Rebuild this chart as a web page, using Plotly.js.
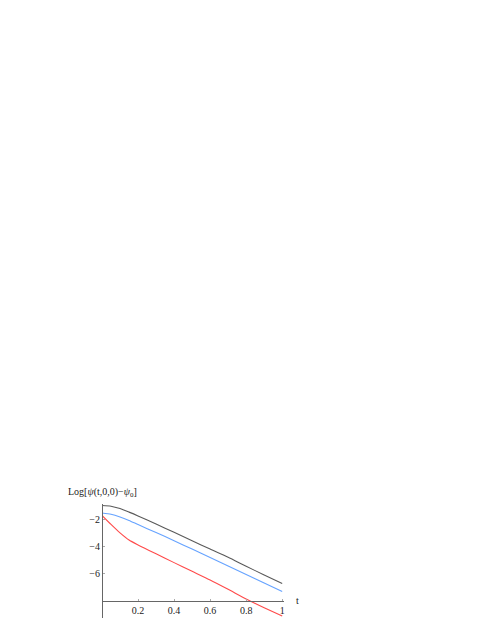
<!DOCTYPE html>
<html>
<head>
<meta charset="utf-8">
<script src="https://cdn.plot.ly/plotly-3.0.1.min.js"></script>
<style>
  html, body { margin: 0; padding: 0; background: #fff; }
  #plot { width: 485px; height: 627px; }
</style>
</head>
<body>
<div id="plot"></div>
<script>
// sample times
const times = [0, 0.05, 0.1, 0.15, 0.2, 0.3, 0.4, 0.5, 0.6, 0.7, 0.8, 0.9, 1.0];

// Log[psi(t,0,0) - psi0] for the three runs
const logBlack = [-0.95, -1.0, -1.18, -1.44, -1.72, -2.32, -2.93, -3.55, -4.17, -4.78, -5.44, -6.08, -6.72];
const logBlue  = [-1.5, -1.6, -1.8, -2.06, -2.36, -2.95, -3.55, -4.17, -4.8, -5.42, -6.05, -6.68, -7.3];
const logRed   = [-1.68, -2.35, -2.97, -3.5, -3.86, -4.52, -5.17, -5.81, -6.45, -7.14, -7.85, -8.5, -9.12];

const xTicks = [0.2, 0.4, 0.6, 0.8, 1];
const xTickText = ['0.2', '0.4', '0.6', '0.8', '1'];
const yTicks = [-6, -4, -2];

const yRange = [-9.26, -0.84];
const xAxisAt = -8;   // x axis crosses the y axis here

function curve(y, color) {
  return {
    x: times,
    y: y,
    type: 'scatter',
    mode: 'lines',
    line: { color: color, width: 1.1, shape: 'spline', smoothing: 0.6 },
    hoverinfo: 'skip'
  };
}

const data = [
  curve(logBlack, '#5a5a5a'),
  curve(logBlue, '#66a3ff'),
  curve(logRed, '#ff4a4a')
];

const axisFont = { family: 'Liberation Serif, Times New Roman, serif', size: 10, color: '#222' };

const layout = {
  width: 485,
  height: 627,
  margin: { l: 102, r: 201, t: 504, b: 9 },
  paper_bgcolor: '#fff',
  plot_bgcolor: '#fff',
  showlegend: false,
  font: axisFont,
  xaxis: {
    range: [0, 1.01],
    anchor: 'free',
    position: (xAxisAt - yRange[0]) / (yRange[1] - yRange[0]),
    showgrid: false,
    zeroline: false,
    showline: true,
    linecolor: '#666',
    linewidth: 1,
    tickvals: xTicks,
    ticktext: xTickText,
    ticks: 'inside',
    ticklen: 2,
    tickcolor: '#aaa',
    tickfont: axisFont
  },
  yaxis: {
    range: yRange,
    anchor: 'free',
    position: 0,
    showgrid: false,
    zeroline: false,
    showline: true,
    linecolor: '#666',
    linewidth: 1,
    tickvals: yTicks,
    ticks: 'inside',
    ticklen: 2,
    tickcolor: '#aaa',
    tickfont: axisFont
  },
  annotations: [
    {
      xref: 'paper', yref: 'paper',
      x: 0, y: 1, xanchor: 'center', yanchor: 'bottom',
      yshift: 3,
      text: 'Log[<i>ψ</i>(t,0,0)−<i>ψ</i><sub>0</sub>]',
      showarrow: false,
      font: axisFont
    },
    {
      xref: 'paper', yref: 'y',
      x: 1, y: xAxisAt, xanchor: 'left', yanchor: 'middle',
      xshift: 10,
      text: 't',
      showarrow: false,
      font: axisFont
    }
  ]
};

Plotly.newPlot('plot', data, layout, { displayModeBar: false, staticPlot: true });
</script>
</body>
</html>
